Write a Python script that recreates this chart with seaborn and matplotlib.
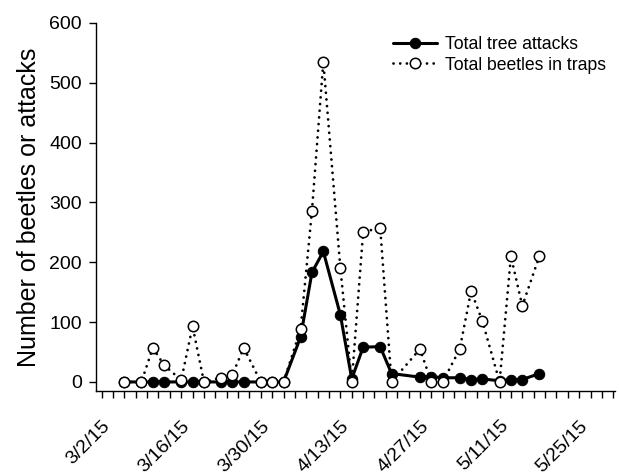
import matplotlib
matplotlib.use("Agg")
import matplotlib.pyplot as plt
import matplotlib.ticker as mticker
import matplotlib.dates as mdates
import seaborn as sns
import pandas as pd

# ---- data ----
dates = ["2015-03-06", "2015-03-09", "2015-03-11", "2015-03-13", "2015-03-16",
         "2015-03-18", "2015-03-20", "2015-03-23", "2015-03-25", "2015-03-27",
         "2015-03-30", "2015-04-01", "2015-04-03", "2015-04-06", "2015-04-08",
         "2015-04-10", "2015-04-13", "2015-04-15", "2015-04-17", "2015-04-20",
         "2015-04-22", "2015-04-27", "2015-04-29", "2015-05-01", "2015-05-04",
         "2015-05-06", "2015-05-08", "2015-05-11", "2015-05-13", "2015-05-15",
         "2015-05-18"]
tree_attacks = [0, 0, 0, 0, 0, 0, 0, 0, 0, 0,
                0, 0, 0, 75, 183, 218, 112, 5, 58, 59,
                14, 8, 9, 7, 7, 4, 5, 2, 4, 4, 14]
beetles_in_traps = [0, 0, 57, 28, 3, 93, 0, 7, 12, 57,
                    0, 0, 0, 88, 286, 535, 190, 0, 250, 258,
                    0, 55, 0, 0, 55, 152, 101, 0, 210, 127, 210]
tick_dates = ["2015-03-02", "2015-03-16", "2015-03-30", "2015-04-13",
              "2015-04-27", "2015-05-11", "2015-05-25"]
tick_labels = ["3/2/15", "3/16/15", "3/30/15", "4/13/15", "4/27/15", "5/11/15", "5/25/15"]
y_ticks = [0, 100, 200, 300, 400, 500, 600]
series_names = ["Total tree attacks", "Total beetles in traps"]

df = pd.DataFrame({"date": pd.to_datetime(dates),
                   series_names[0]: tree_attacks,
                   series_names[1]: beetles_in_traps})

sns.set_theme(style="ticks")
plt.rcParams["font.family"] = ["Liberation Sans", "DejaVu Sans"]
plt.rcParams["text.color"] = "black"
plt.rcParams["axes.labelcolor"] = "black"

fig = plt.figure(figsize=(6.19, 4.75), dpi=100)
ax = fig.add_axes([0.155, 0.177, 0.838, 0.775])

sns.lineplot(data=df, x="date", y=series_names[0], ax=ax, color="black",
             linewidth=2.2, marker="o", markersize=7.5, markerfacecolor="black",
             markeredgecolor="black", zorder=2, legend=False)
sns.lineplot(data=df, x="date", y=series_names[1], ax=ax, color="black",
             linewidth=2.0, marker="o", markersize=7.5, markerfacecolor="white",
             markeredgecolor="black", markeredgewidth=1.1, zorder=3, legend=False)

l_tree, l_trap = ax.lines[0], ax.lines[1]
l_trap.set_linestyle((0, (0.01, 2.4)))
l_trap.set_dash_capstyle("round")
l_tree.set_solid_capstyle("round")
l_tree.set_solid_joinstyle("round")

# axes ranges / ticks
ax.set_xlim(pd.Timestamp("2015-03-01"), pd.Timestamp("2015-05-31 06:00"))
ax.set_ylim(-15, 600)
ax.set_yticks(y_ticks)
ax.set_xticks(pd.to_datetime(tick_dates), labels=tick_labels)
minor = pd.date_range("2015-03-02", "2015-05-31", freq="2D")
ax.xaxis.set_minor_locator(mticker.FixedLocator(mdates.date2num(minor)))

ax.tick_params(axis="both", which="both", direction="out", length=5, width=1,
               color="black", labelsize=14, labelcolor="black")
ax.tick_params(axis="x", which="major", pad=14)
ax.tick_params(axis="y", which="major", pad=5)
for lab in ax.get_xticklabels():
    lab.set_rotation(45)
    lab.set_ha("right")
    lab.set_va("top")
    lab.set_rotation_mode("anchor")

ax.set_xlabel("")
ax.set_ylabel("Number of beetles or attacks", fontsize=18, labelpad=6)

sns.despine(ax=ax)
for s in ("left", "bottom"):
    ax.spines[s].set_linewidth(1.0)
    ax.spines[s].set_color("black")

ax.legend(handles=[l_tree, l_trap], labels=series_names, loc="upper left",
          bbox_to_anchor=(393 / 619, 1 - 36 / 475), bbox_transform=fig.transFigure,
          frameon=False, fontsize=12.7, handlelength=2.5, handletextpad=0.45,
          labelspacing=0.2, borderpad=0, borderaxespad=0)

fig.savefig("out.png", dpi=100)
